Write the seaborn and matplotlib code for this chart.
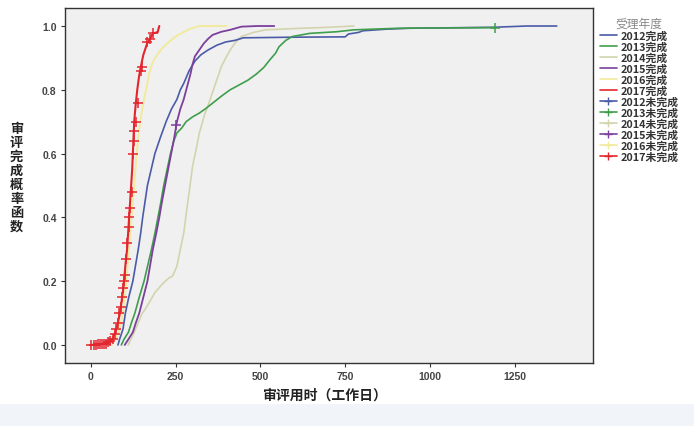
import matplotlib
matplotlib.use("Agg")
import matplotlib.pyplot as plt
from matplotlib.lines import Line2D
from matplotlib.patches import Rectangle
import numpy as np
import pandas as pd
import seaborn as sns

# ---------------- data ----------------
years = ["2012", "2013", "2014", "2015", "2016", "2017"]

t_2012 = [80, 85, 95, 102, 112, 124, 132, 140, 147, 153, 160, 167, 178, 189, 205, 222, 238, 254, 264, 274,
          290, 307, 325, 346, 372, 398, 425, 450, 600, 750, 760, 790, 802, 870, 939, 1185, 1285, 1374]
p_2012 = [0, 0.018, 0.05, 0.1, 0.15, 0.2, 0.25, 0.3, 0.35, 0.4, 0.45, 0.5, 0.55, 0.6, 0.65, 0.7, 0.74, 0.77, 0.8, 0.82,
          0.86, 0.89, 0.91, 0.925, 0.94, 0.95, 0.955, 0.963, 0.965, 0.966, 0.975, 0.98, 0.985, 0.99, 0.993, 0.996, 1.0, 1.0]

t_2013 = [90, 98, 111, 120, 130, 143, 157, 168, 179, 189, 198, 207, 215, 225, 235, 245, 254, 268, 281, 300,
          320, 340, 359, 385, 411, 437, 463, 489, 510, 528, 545, 555, 575, 594, 646, 724, 776, 907, 1191]
p_2013 = [0, 0.018, 0.04, 0.07, 0.1, 0.15, 0.2, 0.25, 0.3, 0.35, 0.4, 0.45, 0.5, 0.55, 0.6, 0.64, 0.665, 0.68, 0.7, 0.715,
          0.727, 0.742, 0.758, 0.78, 0.8, 0.815, 0.83, 0.85, 0.87, 0.894, 0.915, 0.935, 0.955, 0.967, 0.977, 0.982, 0.988, 0.993, 0.995]

t_2014 = [110, 124, 140, 150, 165, 176, 189, 210, 230, 241, 254, 264, 274, 280, 287, 294, 300, 310, 320, 335,
          352, 368, 385, 398, 411, 428, 444, 480, 515, 600, 700, 776]
p_2014 = [0, 0.03, 0.07, 0.096, 0.12, 0.14, 0.164, 0.19, 0.21, 0.216, 0.247, 0.3, 0.35, 0.4, 0.456, 0.51, 0.56, 0.61, 0.664, 0.72,
          0.77, 0.82, 0.873, 0.9, 0.925, 0.95, 0.967, 0.98, 0.988, 0.992, 0.996, 1.0]

t_2015 = [100, 111, 124, 133, 143, 155, 167, 175, 183, 193, 202, 210, 219, 228, 237, 246, 254, 264, 274, 284,
          294, 300, 307, 320, 333, 346, 359, 385, 411, 444, 490, 541]
p_2015 = [0, 0.018, 0.04, 0.07, 0.1, 0.15, 0.2, 0.25, 0.3, 0.35, 0.4, 0.45, 0.5, 0.55, 0.6, 0.65, 0.7, 0.74, 0.77, 0.81,
          0.85, 0.88, 0.905, 0.925, 0.945, 0.96, 0.972, 0.982, 0.988, 0.998, 1.0, 1.0]

t_2016 = [60, 75, 85, 95, 105, 112, 120, 128, 135, 142, 150, 157, 163, 172, 180, 189, 210, 230, 254, 290, 320, 360, 400]
p_2016 = [0, 0.02, 0.05, 0.1, 0.2, 0.3, 0.4, 0.5, 0.6, 0.67, 0.73, 0.77, 0.8, 0.85, 0.88, 0.9, 0.93, 0.95, 0.97, 0.99, 1.0, 1.0, 1.0]

t_2017 = [0, 20, 40, 55, 65, 72, 78, 82, 86, 90, 95, 98, 102, 107, 110, 113, 116, 119, 122, 124, 126, 128,
          132, 137, 142, 147, 155, 166, 175, 183, 195, 197, 202]
p_2017 = [0, 0.002, 0.004, 0.01, 0.02, 0.04, 0.06, 0.08, 0.1, 0.13, 0.17, 0.2, 0.25, 0.3, 0.35, 0.4, 0.45, 0.5, 0.55, 0.6, 0.65, 0.7,
          0.75, 0.8, 0.84, 0.87, 0.91, 0.945, 0.96, 0.977, 0.98, 0.98, 1.0]

# censored (未完成) observations
cens_year = ["2017"] * 36 + ["2015", "2013"]
cens_t = [2, 8, 14, 20, 26, 32, 38, 44, 50, 58, 64, 70, 75, 80, 84, 88, 92, 95, 98, 100, 104, 108, 112, 114,
          117, 121, 124, 127, 128, 132, 139, 147, 150, 166, 175, 183, 250, 1191]
cens_p = [0, 0, 0, 0.002, 0.002, 0.003, 0.004, 0.004, 0.008, 0.012, 0.02, 0.035, 0.05, 0.07, 0.1, 0.12, 0.15, 0.18,
          0.2, 0.22, 0.27, 0.32, 0.37, 0.4, 0.43, 0.48, 0.6, 0.64, 0.67, 0.7, 0.76, 0.86, 0.87, 0.95, 0.96, 0.977, 0.69, 0.995]

x_ticks = [0, 250, 500, 750, 1000, 1250]
y_ticks = [0.0, 0.2, 0.4, 0.6, 0.8, 1.0]

colors = {"2012": "#4b5ba8", "2013": "#3f9e4c", "2014": "#d3d4ae", "2015": "#7c3f9c",
          "2016": "#f2ea9c", "2017": "#e3262e"}
widths = {"2012": 1.2, "2013": 1.2, "2014": 1.2, "2015": 1.3, "2016": 1.4, "2017": 1.5}

# ---------------- build frames ----------------
series = {"2012": (t_2012, p_2012), "2013": (t_2013, p_2013), "2014": (t_2014, p_2014),
          "2015": (t_2015, p_2015), "2016": (t_2016, p_2016), "2017": (t_2017, p_2017)}
rows = []
for y in years:
    tt, pp = series[y]
    for i, (a, b) in enumerate(zip(tt, pp)):
        rows.append({"year": y, "idx": i, "time": a, "prob": b})
df = pd.DataFrame(rows)
cens = pd.DataFrame({"year": cens_year, "time": cens_t, "prob": cens_p})

# ---------------- plot ----------------
sns.set_theme(style="ticks")
plt.rcParams["font.family"] = ["Noto Sans CJK SC", "DejaVu Sans"]

fig = plt.figure(figsize=(6.94, 4.27), dpi=100)
fig.patches.append(Rectangle((0, 0), 1, 22 / 427, transform=fig.transFigure,
                             facecolor="#f1f5f9", edgecolor="none", zorder=0))
ax = fig.add_axes([0.0937, 0.1487, 0.7608, 0.8291])
ax.set_facecolor("#f0f0f0")

draw_order = ["2014", "2016", "2012", "2013", "2015", "2017"]
for y in draw_order:
    sub = df[df["year"] == y]
    sns.lineplot(data=sub, x="time", y="prob", ax=ax, color=colors[y], lw=widths[y],
                 estimator=None, sort=False, legend=False)

for y in ["2015", "2013", "2017"]:
    sub = cens[cens["year"] == y]
    sns.scatterplot(data=sub, x="time", y="prob", ax=ax, marker="+", s=45,
                    color=colors[y], linewidth=1.1, legend=False, zorder=5)

ax.set_xlim(-76, 1481)
ax.set_ylim(-0.055, 1.055)
ax.set_xticks(x_ticks)
ax.set_xticklabels([str(v) for v in x_ticks])
ax.set_yticks(y_ticks)
ax.set_yticklabels([f"{v:.1f}" for v in y_ticks])
ax.tick_params(axis="both", labelsize=7.5, colors="#333333", length=3, width=0.8, pad=3)
for lab in ax.get_xticklabels() + ax.get_yticklabels():
    lab.set_fontfamily(["Liberation Sans", "DejaVu Sans"])
    lab.set_fontweight("bold")
    lab.set_color("#444444")
for s in ax.spines.values():
    s.set_color("#333333")
    s.set_linewidth(1.0)
ax.set_xlabel("")
ax.set_ylabel("")

fig.text(0.467, 0.073, "审评用时（工作日）", ha="center", va="center", fontsize=10,
         fontweight="bold", color="#222222")
fig.text(0.024, 0.583, "\n".join("审评完成概率函数"), ha="center", va="center", fontsize=9.5,
         fontweight="bold", color="#222222", linespacing=1.0)

handles = []
labels = []
for y in years:
    handles.append(Line2D([], [], color=colors[y], lw=1.2, drawstyle="steps-post"))
    labels.append(f"{y}完成")
for y in years:
    handles.append(Line2D([], [], color=colors[y], lw=1.2, marker="+", markersize=6))
    labels.append(f"{y}未完成")
leg = ax.legend(handles, labels, title="受理年度", loc="upper left", bbox_to_anchor=(1.0, 0.995),
                frameon=False, fontsize=7.8, title_fontsize=8.5, handlelength=1.6, handletextpad=0.3,
                labelspacing=0.05, borderaxespad=0.2)
leg.get_title().set_color("#888888")
for txt in leg.get_texts():
    txt.set_color("#333333")
    txt.set_fontweight("bold")

fig.savefig("out.png", dpi=100)
